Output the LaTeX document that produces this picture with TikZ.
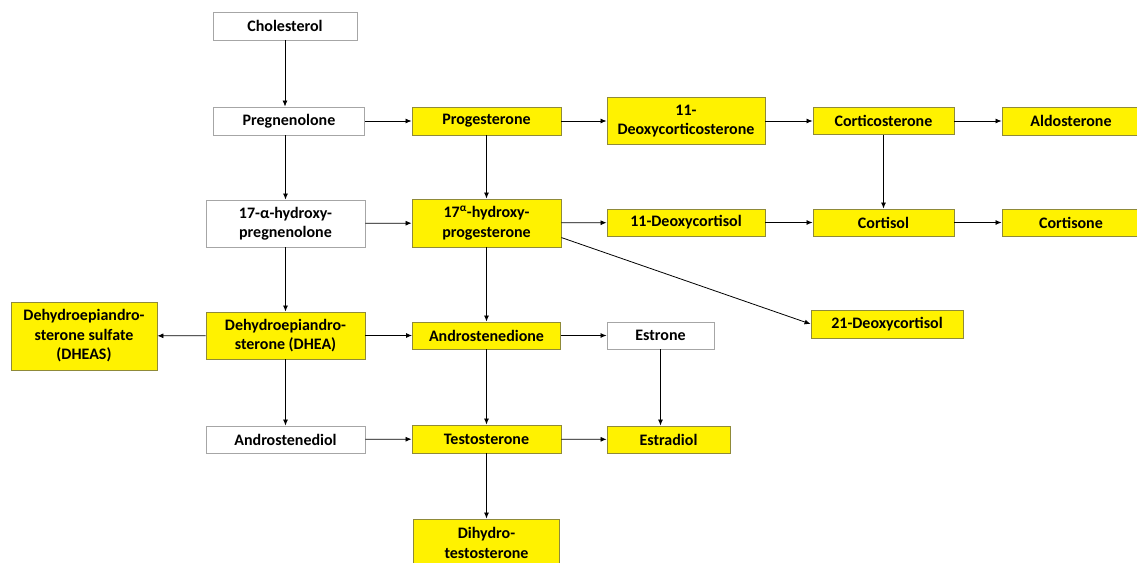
\documentclass[tikz,border=0pt]{standalone}
\usepackage{fontspec}
\setmainfont{Carlito}
\usetikzlibrary{positioning,arrows.meta}

\tikzset{
  hormone/.style={draw=gray!70,fill=white,line width=0.9pt,align=center,inner sep=1pt,
    font=\bfseries\fontsize{16}{19.5}\selectfont},
  active/.style={hormone,draw=olive!60!gray,fill=yellow},
}

\begin{document}
\begin{tikzpicture}[x=1pt,y=-1pt,>={Latex[length=6pt,width=5pt]},line width=0.8pt]
  \useasboundingbox (0,0) rectangle (1137,562);
  \clip (0,0) rectangle (1137,562);

  % top rows
  \node[hormone,minimum width=144pt,minimum height=28pt] (chol) at (285,26) {Cholesterol};
  \node[hormone,minimum width=151pt,minimum height=28pt] (preg) at (289,121) {Pregnenolone};
  \node[active,minimum width=149pt,minimum height=28pt] (prog) at (486.5,121) {Progesterone};
  \node[active,minimum width=158pt,minimum height=47pt] (doc) at (686,121) {11-\\Deoxycorticosterone};
  \node[active,minimum width=141pt,minimum height=27pt] (cort) at (883.5,121) {Corticosterone};
  \node[active,minimum width=138pt,minimum height=28pt] (aldo) at (1071,121) {Aldosterone};

  \node[hormone,minimum width=159pt,minimum height=47pt] (ohpreg) at (285.5,223.5) {17-α-hydroxy-\\pregnenolone};
  \node[active,minimum width=149pt,minimum height=48pt] (ohprog) at (486.5,223) {17\textsuperscript{α}-hydroxy-\\progesterone};
  \node[active,minimum width=158pt,minimum height=27pt] (deox) at (686,222.5) {11-Deoxycortisol};
  \node[active,minimum width=141pt,minimum height=27pt] (cortisol) at (883.5,222.5) {Cortisol};
  \node[active,minimum width=138pt,minimum height=27pt] (cortisone) at (1071,222.5) {Cortisone};
  \node[active,minimum width=152pt,minimum height=28pt] (dc21) at (887,324) {21-Deoxycortisol};

  % androgens and estrogens
  \node[active,minimum width=146pt,minimum height=68pt] (dheas) at (84,336) {Dehydroepiandro-\\sterone sulfate\\(DHEAS)};
  \node[active,minimum width=159pt,minimum height=47pt] (dhea) at (285.5,335.5) {Dehydroepiandro-\\sterone (DHEA)};
  \node[active,minimum width=148pt,minimum height=27pt] (andro) at (486.5,335.5) {Androstenedione};
  \node[hormone,minimum width=107pt,minimum height=27pt] (estrone) at (660.5,335.5) {Estrone};
  \node[hormone,minimum width=159pt,minimum height=27pt] (adiol) at (285.5,439.5) {Androstenediol};
  \node[active,minimum width=149pt,minimum height=28pt] (testo) at (486.5,439) {Testosterone};
  \node[active,minimum width=123pt,minimum height=27pt] (estradiol) at (668.5,439.5) {Estradiol};
  \node[active,minimum width=146pt,minimum height=48pt] (dht) at (486.5,543) {Dihydro-\\testosterone};

  \draw[->] (chol) -- (chol |- preg.north);
  \draw[->] (preg) -- (prog);
  \draw[->] (prog) -- (doc);
  \draw[->] (doc) -- (cort);
  \draw[->] (cort) -- (aldo);
  \draw[->] (cort) -- (cort |- cortisol.north);

  \draw[->] (ohpreg |- preg.south) -- (ohpreg);
  \draw[->] (prog) -- (ohprog);
  \draw[->] (ohpreg) -- (ohprog);
  \draw[->] (ohprog) -- (deox);
  \draw[->] (deox) -- (cortisol);
  \draw[->] (cortisol) -- (cortisone);
  \draw[->] (ohprog.-11) -- (dc21.west);

  \draw[->] (ohpreg) -- (dhea);
  \draw[->] (ohprog) -- (andro);
  \draw[->] (dhea) -- (dheas);
  \draw[->] (dhea) -- (andro);
  \draw[->] (andro) -- (estrone);
  \draw[->] (estrone) -- (estrone |- estradiol.north);

  \draw[->] (dhea) -- (adiol);
  \draw[->] (andro) -- (testo);
  \draw[->] (adiol) -- (testo);
  \draw[->] (testo) -- (estradiol);
  \draw[->] (testo) -- (dht);
\end{tikzpicture}
\end{document}
